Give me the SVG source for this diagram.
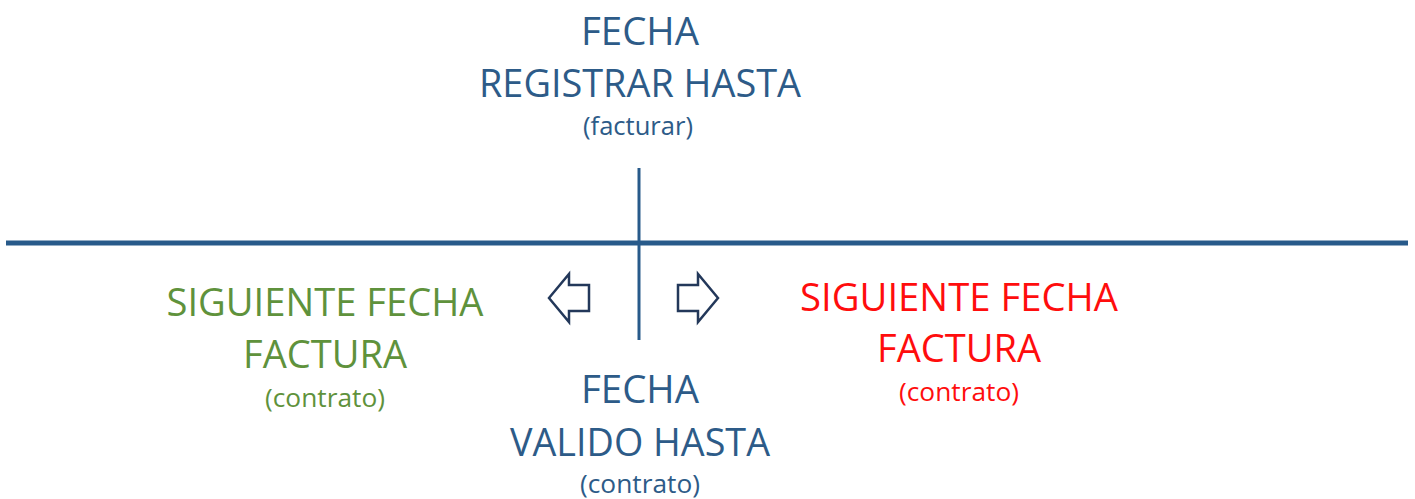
<svg xmlns="http://www.w3.org/2000/svg" width="1415" height="499" viewBox="0 0 1415 499">
<style>
text{font-family:"Open Sans","Noto Sans","Liberation Sans",sans-serif;text-anchor:middle}
.big{font-size:38px}
.small{font-size:25px}
.blue{fill:#2d5b88}
.green{fill:#5f923c}
.red{fill:#ff0d0d}
.line{stroke:#285a8a;fill:none}
.arrow{fill:#ffffff;stroke:#23385a;stroke-width:2.5;stroke-linejoin:miter}
</style>
<rect width="1415" height="499" fill="#ffffff"/>
<g id="connectors">
<line class="line" x1="6" y1="243" x2="1408" y2="243" stroke-width="5"/>
<line class="line" x1="639" y1="168" x2="639" y2="340" stroke-width="3"/>
<path class="arrow" d="M549,298 L569,274 L569,285 L589,285 L589,311 L569,311 L569,322 Z"/>
<path class="arrow" d="M718,298 L698,274 L698,285 L678,285 L678,311 L698,311 L698,322 Z"/>
</g>
<g id="node-registrar">
<text class="big blue" x="640" y="45" textLength="118" lengthAdjust="spacingAndGlyphs">FECHA</text>
<text class="big blue" x="640" y="97" textLength="322" lengthAdjust="spacingAndGlyphs">REGISTRAR HASTA</text>
<text class="small blue" x="638" y="135" textLength="110" lengthAdjust="spacingAndGlyphs">(facturar)</text>
</g>
<g id="node-siguiente-green">
<text class="big green" x="325" y="316" textLength="317" lengthAdjust="spacingAndGlyphs">SIGUIENTE FECHA</text>
<text class="big green" x="325" y="368" textLength="164" lengthAdjust="spacingAndGlyphs">FACTURA</text>
<text class="small green" x="325" y="407" textLength="120" lengthAdjust="spacingAndGlyphs">(contrato)</text>
</g>
<g id="node-siguiente-red">
<text class="big red" x="959" y="311" textLength="318" lengthAdjust="spacingAndGlyphs">SIGUIENTE FECHA</text>
<text class="big red" x="959" y="362" textLength="164" lengthAdjust="spacingAndGlyphs">FACTURA</text>
<text class="small red" x="959" y="401" textLength="120" lengthAdjust="spacingAndGlyphs">(contrato)</text>
</g>
<g id="node-valido">
<text class="big blue" x="640" y="403" textLength="118" lengthAdjust="spacingAndGlyphs">FECHA</text>
<text class="big blue" x="640" y="456" textLength="260" lengthAdjust="spacingAndGlyphs">VALIDO HASTA</text>
<text class="small blue" x="640" y="493" textLength="120" lengthAdjust="spacingAndGlyphs">(contrato)</text>
</g>
</svg>
